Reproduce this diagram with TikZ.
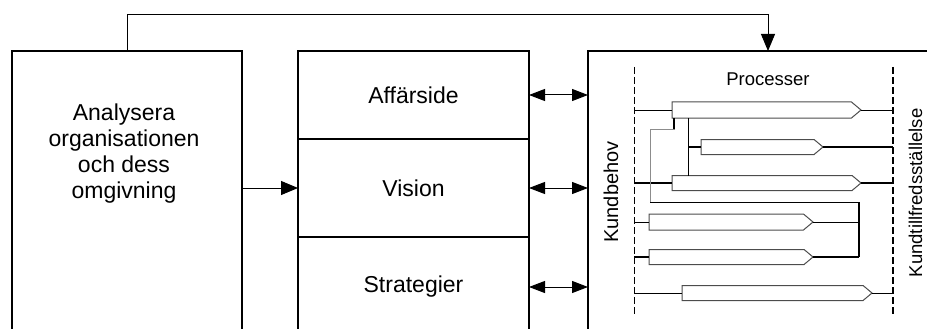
\documentclass[tikz,border=0pt]{standalone}
\usepackage{fontspec}
\setmainfont{Liberation Sans}
\usetikzlibrary{arrows.meta,shapes.symbols}
\begin{document}
\begin{tikzpicture}[x=1pt,y=-1pt,
  box/.style={draw, line width=1.3pt, inner sep=0pt, outer sep=0pt, anchor=north west, font=\fontsize{23}{26}\selectfont},
  conn/.style={line width=1pt},
  thick conn/.style={line width=2pt},
  gray conn/.style={line width=1pt, draw=black!45},
  tipR/.style={-{Triangle[length=17pt,width=14pt]}},
  dbl/.style={{Triangle[length=16pt,width=12pt]}-{Triangle[length=16pt,width=12pt]}, line width=1pt},
  procbox/.style={signal, signal to=east, signal from=nowhere, signal pointer angle=80, draw=black!70, line width=1pt, inner sep=0pt, outer sep=0pt, anchor=west},
  lbl/.style={font=\fontsize{18.5}{22}\selectfont, inner sep=0pt}
]
\useasboundingbox (0,0) rectangle (927,329);

% main boxes
\node[box, minimum width=230pt, minimum height=300pt] (ana) at (12,51) {};
\node[font=\fontsize{23}{26}\selectfont, align=center, inner sep=0pt] (anatxt) at (124,154) {Analysera\\organisationen\\och dess\\omgivning};
\node[box, minimum width=231pt, minimum height=88pt] (aff) at (298,51) {Affärside};
\node[box, minimum width=231pt, minimum height=98pt] (vis) at (298,139) {Vision};
\node[box, minimum width=231pt, minimum height=100pt] (str) at (298,237) {Strategier};
\node[box, minimum width=400pt, minimum height=300pt] (proc) at (588,51) {};

% connectors between boxes
\draw[conn, tipR] (ana.north) -- (ana.north |- 0,15) -| ([xshift=180pt]proc.north west);
\draw[conn, -{Triangle[length=17pt,width=14pt]}] (ana.east |- vis.west) -- (vis.west);
\draw[dbl] (aff.east) -- (aff.east -| proc.west);
\draw[dbl] (vis.east) -- (vis.east -| proc.west);
\draw[dbl] (str.east) -- (str.east -| proc.west);

% inside process box
\coordinate (dlt) at (634,67);
\coordinate (dlb) at (634,316);
\coordinate (drt) at (893,67);
\coordinate (drb) at (893,316);
\draw[line width=1pt, dash pattern=on 7pt off 3pt] (dlt) -- (dlb);
\draw[line width=2pt, dash pattern=on 7pt off 3pt] (drt) -- (drb);

\node[lbl] (proctxt) at (768,79) {Processer};
\node[lbl, font=\fontsize{20}{22}\selectfont, rotate=90] (kb) at (611,192) {Kundbehov};
\node[lbl, rotate=90] (kt) at (915.5,193) {Kundtillfredsställelse};

\node[procbox, minimum width=189pt, minimum height=16pt] (p1) at (672,110) {};
\node[procbox, minimum width=122pt, minimum height=15pt] (p2) at (701,147) {};
\node[procbox, minimum width=189pt, minimum height=15pt] (p3) at (672,183) {};
\node[procbox, minimum width=164pt, minimum height=16pt] (p4) at (649,222) {};
\node[procbox, minimum width=164pt, minimum height=15pt] (p5) at (649,257) {};
\node[procbox, minimum width=190pt, minimum height=15pt] (p6) at (682,293) {};

\coordinate (j) at (859,202);

% left side links
\draw[conn] (p1.west -| dlt) -- (p1.west);
\draw[thick conn] (p3.west -| dlt) -- (p3.west);
\draw[conn] (p4.west -| dlt) -- (p4.west);
\draw[thick conn] (p5.west -| dlt) -- (p5.west);
\draw[conn] (p6.west -| dlt) -- (p6.west);

% right side links
\draw[conn] (p1.east) -- (p1.east -| drt);
\draw[thick conn] (p2.east) -- (p2.east -| drt);
\draw[thick conn] (p3.east) -- (p3.east -| drt);
\draw[conn] (p4.east) -- (p4.east -| j);
\draw[thick conn] (p5.east) -- (p5.east -| j);
\draw[conn] (p6.east) -- (p6.east -| drt);

% internal links
\draw[conn] (688,118) -- (688,176);
\draw[thick conn] (688,147) -- (p2.west);
\draw[thick conn] (674,118) -- (674,129);
\draw[gray conn] (675,129) -- (650,129) -- (650,202);
\draw[conn] (650,202) -- (j);
\draw[thick conn] (j) -- (p5.east -| j);
\end{tikzpicture}
\end{document}
